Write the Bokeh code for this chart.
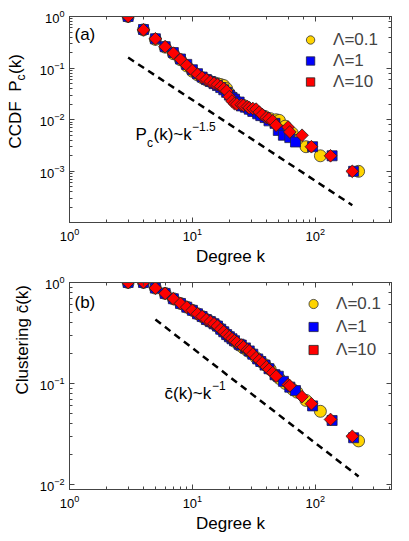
import numpy as np
from bokeh.plotting import figure
from bokeh.models import LogAxis, Label, Legend, LegendItem, Range1d
from bokeh.layouts import column, row
from bokeh.embed import file_html
from bokeh.resources import INLINE

# ---------------- data ----------------
series_labels = ["Λ=0.1", "Λ=1", "Λ=10"]

# Lambda = 0.1 (yellow circles)
k_y = [3, 4, 5, 6, 7, 8, 9, 10, 11, 12, 13, 14, 15, 16, 17, 18, 19, 20,
       22, 24, 26, 28, 30, 33, 36, 39, 43, 48, 51, 57, 65, 71, 84, 110, 225]
P_y = [1.0, 0.55, 0.36, 0.255, 0.19, 0.145, 0.11, 0.087, 0.074, 0.065, 0.059, 0.055,
       0.052, 0.05, 0.048, 0.046, 0.04, 0.032, 0.025, 0.021, 0.019, 0.017, 0.0155,
       0.014, 0.0125, 0.0115, 0.0105, 0.010, 0.0097, 0.0075, 0.0055, 0.004, 0.003,
       0.002, 0.001]
c_y = [1.0, 1.0, 0.88, 0.78, 0.69, 0.62, 0.57, 0.53, 0.49, 0.46, 0.43, 0.41, 0.39,
       0.37, 0.345, 0.325, 0.305, 0.29, 0.262, 0.24, 0.225, 0.212, 0.2, 0.18, 0.165,
       0.153, 0.138, 0.12, 0.112, 0.1, 0.088, 0.082, 0.068, 0.053, 0.027]

# Lambda = 1 (blue squares)
k_b = [3, 4, 5, 6, 7, 8, 9, 10, 11, 12, 13, 14, 15, 16, 17, 18, 19, 20, 21, 22,
       24, 25, 27, 29, 31, 34, 36, 39, 42, 47, 50, 55, 62, 69, 95, 137, 205]
P_b = [1.0, 0.56, 0.37, 0.26, 0.2, 0.15, 0.118, 0.093, 0.078, 0.067, 0.06, 0.055,
       0.05, 0.046, 0.042, 0.038, 0.034, 0.030, 0.027, 0.025, 0.022, 0.0185, 0.0175,
       0.016, 0.0145, 0.013, 0.012, 0.011, 0.0095, 0.0085, 0.0062, 0.005, 0.0045,
       0.0037, 0.003, 0.002, 0.001]
c_b = [1.0, 1.0, 0.88, 0.78, 0.69, 0.62, 0.57, 0.53, 0.49, 0.46, 0.43, 0.41, 0.39,
       0.37, 0.345, 0.325, 0.305, 0.29, 0.277, 0.265, 0.245, 0.24, 0.225, 0.21,
       0.195, 0.175, 0.165, 0.152, 0.14, 0.122, 0.118, 0.105, 0.092, 0.085, 0.06,
       0.043, 0.029]

# Lambda = 10 (red diamonds)
k_r = [3, 4, 5, 6, 7, 8, 9, 10, 11, 12, 13, 14, 15, 16, 17, 18, 19, 20, 21, 22, 23,
       25, 26, 28, 29, 31, 33, 35, 37, 40, 42, 45, 48, 60, 62, 78, 93, 133, 200]
P_r = [1.0, 0.55, 0.37, 0.26, 0.195, 0.148, 0.113, 0.090, 0.076, 0.066, 0.060, 0.055,
       0.051, 0.048, 0.044, 0.040, 0.036, 0.028, 0.023, 0.0205, 0.020, 0.0195, 0.019,
       0.018, 0.017, 0.0165, 0.016, 0.014, 0.0125, 0.011, 0.0105, 0.0095, 0.0078,
       0.0072, 0.0058, 0.005, 0.003, 0.002, 0.001]
c_r = [1.0, 1.0, 0.88, 0.78, 0.69, 0.62, 0.57, 0.53, 0.49, 0.46, 0.43, 0.41, 0.39,
       0.37, 0.345, 0.325, 0.305, 0.29, 0.277, 0.265, 0.255, 0.24, 0.23, 0.215, 0.21,
       0.195, 0.18, 0.17, 0.16, 0.146, 0.138, 0.128, 0.118, 0.097, 0.095, 0.074,
       0.063, 0.044, 0.030]

# guide lines (end points)
guide_a_k = [3, 200]
guide_a_P = [0.16, 2.2e-4]
guide_b_k = [5, 225]
guide_b_c = [0.43, 0.012]

# ---------------- layout helpers ----------------
FONT = "Liberation Sans"
LW = 34            # width of the strip holding the rotated y labels
W = 375            # width of each plot figure
BL, BR = 35, 18    # frame from x=69 to x=391 on the page
X0, X1 = 1.0, 10 ** 2.62
YA0, YB0 = 1.02e-4, 10 ** -2.05
HA, TA, BA = 270, 16, 48     # frame a: y 16..222
HB, TB, BB = 271, 12, 52     # frame b: y 282..489 (page)
FRAME_COL = "#444444"
FL, FR = LW + BL, LW + W - BR


def xd(px):
    return 10 ** (np.log10(X0) + (px - FL) / (FR - FL) * (np.log10(X1) - np.log10(X0)))


def yd(py, top, bottom, ymin):
    return 10 ** (-(py - top) / (bottom - top) * (0 - np.log10(ymin)))


def ya(py):
    return yd(py, TA, HA - BA, YA0)


def yb(py):
    return yd(py, HA + TB, HA + HB - BB, YB0)


def style_axis(ax, labels=True):
    ax.major_tick_in = 5
    ax.major_tick_out = 0
    ax.minor_tick_in = 3
    ax.minor_tick_out = 0
    ax.axis_line_color = FRAME_COL
    ax.major_tick_line_color = FRAME_COL
    ax.minor_tick_line_color = FRAME_COL
    if labels:
        ax.major_label_text_font = FONT
        ax.major_label_text_font_size = "13px"
        ax.major_label_text_color = "black"
        ax.major_label_standoff = 5
    else:
        ax.major_label_text_font_size = "1px"
        ax.major_label_text_alpha = 0
        ax.major_label_standoff = 0


def make_fig(h, top, bottom, ymin):
    p = figure(width=W, height=h, x_axis_type="log", y_axis_type="log",
               x_range=Range1d(X0, X1), y_range=Range1d(ymin, 1.0),
               output_backend="svg", toolbar_location=None, title=None,
               min_border_left=BL, min_border_right=BR,
               min_border_top=top, min_border_bottom=bottom)
    p.grid.visible = False
    p.outline_line_color = FRAME_COL
    p.outline_line_width = 1
    for ax in p.xaxis + p.yaxis:
        style_axis(ax)
    p.xaxis.axis_label = "Degree k"
    p.xaxis.axis_label_text_font = FONT
    p.xaxis.axis_label_text_font_size = "17px"
    p.xaxis.axis_label_text_font_style = "normal"
    p.xaxis.axis_label_text_color = "black"
    p.xaxis.axis_label_standoff = 3
    ta = LogAxis()
    style_axis(ta, labels=False)
    p.add_layout(ta, "above")
    ra = LogAxis()
    style_axis(ra, labels=False)
    p.add_layout(ra, "right")
    return p


def label_strip(h):
    s = figure(width=LW, height=h, x_range=Range1d(0, LW), y_range=Range1d(0, h),
               output_backend="svg", toolbar_location=None, title=None,
               x_axis_location=None, y_axis_location=None,
               min_border_left=0, min_border_right=0, min_border_top=0,
               min_border_bottom=0)
    s.grid.visible = False
    s.outline_line_color = None
    return s


def add_series(p, ys, row_h, margin, padding):
    r1 = p.scatter(k_y, ys[0], marker="circle", size=12, fill_color="#FFD400",
                   line_color="#333333", line_width=0.8)
    r2 = p.scatter(k_b, ys[1], marker="square", size=10, fill_color="#0000FF",
                   line_color="#222244", line_width=0.8)
    r3 = p.scatter(k_r, ys[2], marker="square", angle=np.pi / 4, size=9,
                   fill_color="#FF0000", line_color="#222222", line_width=0.8)
    leg = Legend(items=[LegendItem(label=series_labels[i], renderers=[r])
                        for i, r in enumerate([r1, r2, r3])],
                 location="top_right", border_line_alpha=0, background_fill_alpha=0,
                 label_text_font=FONT, label_text_font_size="17px",
                 glyph_width=28, glyph_height=row_h, label_height=row_h,
                 spacing=0, padding=padding, margin=margin, label_standoff=9)
    p.add_layout(leg)


def lab(p, x, y, text, size="17px", **kw):
    p.add_layout(Label(x=x, y=y, text=text, text_font=FONT, text_font_size=size,
                       text_color="black", **kw))


# ---------------- panel (a) ----------------
pa = make_fig(HA, TA, BA, YA0)
pa.line(guide_a_k, guide_a_P, line_color="black", line_width=2.5, line_dash="7 5")
add_series(pa, [P_y, P_b, P_r], row_h=21, margin=7, padding=6)
lab(pa, xd(74), ya(34), "(a)", text_baseline="middle")
ax0, ay0 = xd(135), ya(134)
lab(pa, ax0, ay0, "P", text_baseline="middle")
lab(pa, ax0, ay0, "c", size="12px", text_baseline="middle", x_offset=11.5, y_offset=-8)
lab(pa, ax0, ay0, "(k)~k", text_baseline="middle", x_offset=18)
lab(pa, ax0, ay0, "−1.5", size="12px", text_baseline="middle", x_offset=56.5, y_offset=8)

sa = label_strip(HA)
# y axis label of (a): CCDF  P_c(k), reading upward from y=173
lab(sa, 15, HA - 173, "CCDF\u00a0\u00a0P", size="17px", angle=np.pi / 2,
    text_baseline="middle")
lab(sa, 15, HA - 173, "c", size="12px", angle=np.pi / 2, text_baseline="middle",
    x_offset=5, y_offset=68)
lab(sa, 15, HA - 173, "(k)", size="17px", angle=np.pi / 2, text_baseline="middle",
    y_offset=74.5)

# ---------------- panel (b) ----------------
pb = make_fig(HB, TB, BB, YB0)
pb.line(guide_b_k, guide_b_c, line_color="black", line_width=2.5, line_dash="7 5")
add_series(pb, [c_y, c_b, c_r], row_h=23, margin=5, padding=5)
lab(pb, xd(74), yb(302), "(b)", text_baseline="middle")
bx0, by0 = xd(164), yb(393)
lab(pb, bx0, by0, "c\u0304(k)~k", text_baseline="middle")
lab(pb, bx0, by0, "−1", size="12px", text_baseline="middle", x_offset=47.5, y_offset=8)

sb = label_strip(HB)
lab(sb, 22, HB - (345 - HA), "Clustering c\u0304(k)", size="17px", angle=np.pi / 2,
    text_align="center", text_baseline="middle")

layout = column(row(sa, pa, spacing=0), row(sb, pb, spacing=0), spacing=0)
open("out.html", "w").write(file_html(layout, INLINE))
